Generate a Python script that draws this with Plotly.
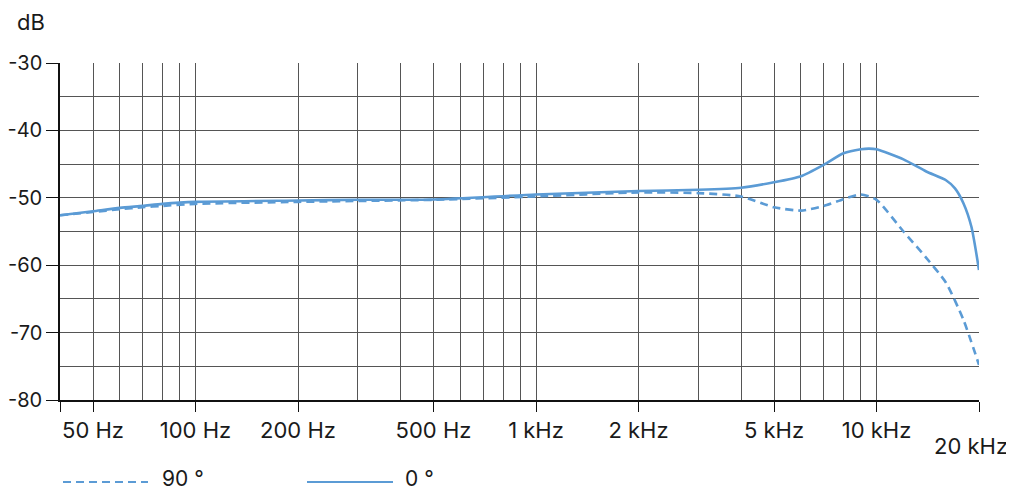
import math
import plotly.graph_objects as go

# ---- data ----
freq_0 = [40, 50, 60, 70, 80, 100, 200, 300, 500, 1000, 2000, 3000, 4000, 5000, 6000, 7000, 8000, 9000, 9500, 10000, 12000, 14000, 16000, 17000, 18000, 19000, 20000]
db_0 = [-52.6, -52.0, -51.5, -51.2, -50.9, -50.6, -50.4, -50.3, -50.25, -49.5, -49.0, -48.8, -48.5, -47.7, -46.8, -45.1, -43.4, -42.8, -42.7, -42.8, -44.3, -46.1, -47.4, -48.6, -50.8, -54.3, -60.7]

freq_90 = [40, 50, 60, 70, 80, 100, 200, 500, 1000, 2000, 3000, 4000, 5000, 6000, 7000, 8000, 9000, 10000, 12000, 14000, 16000, 18000, 20000]
db_90 = [-52.6, -52.1, -51.7, -51.4, -51.2, -50.9, -50.6, -50.3, -49.8, -49.2, -49.3, -49.8, -51.4, -51.9, -51.2, -50.2, -49.5, -50.3, -55.0, -58.9, -62.6, -68.1, -74.8]

x_major = [40, 50, 100, 200, 500, 1000, 2000, 5000, 10000, 20000]
x_major_text = ["", "50 Hz", "100 Hz", "200 Hz", "500 Hz", "1 kHz", "2 kHz", "5 kHz", "10 kHz", ""]
x_minor = [60, 70, 80, 90, 300, 400, 600, 700, 800, 900, 3000, 4000, 6000, 7000, 8000, 9000]
y_major = [-80, -70, -60, -50, -40, -30]
y_major_text = ["-80", "-70", "-60", "-50", "-40", "-30"]
y_minor = [-75, -65, -55, -45, -35]
legend_names = ["90 °", "0 °"]

COLOR = "#5b9bd5"
FONT = "Inter"
TXT = "#1a1a1a"
GRID = "#555555"

# page is rendered with an 8px body margin: compensate
OFF = 8
W, H = 1014 - OFF, 491 - OFF
PLOT_L, PLOT_R, PLOT_T, PLOT_B = 60, 979, 63, 400   # plot area in page pixels
ML = PLOT_L - OFF
MT = PLOT_T - OFF
MR = 1014 - PLOT_R
MB = 491 - PLOT_B
PW, PH = PLOT_R - PLOT_L, PLOT_B - PLOT_T

def px(x):
    return (x - PLOT_L) / PW

def py(y):
    return (PLOT_B - y) / PH

fig = go.Figure()
fig.add_trace(go.Scatter(x=freq_90, y=db_90, mode="lines", name=legend_names[0],
                         line=dict(color=COLOR, width=2.6, dash="8px,5px", shape="spline", smoothing=0.6),
                         showlegend=False))
fig.add_trace(go.Scatter(x=freq_0, y=db_0, mode="lines", name=legend_names[1],
                         line=dict(color=COLOR, width=2.6, shape="spline", smoothing=0.6),
                         showlegend=False))

fig.update_xaxes(type="log", range=[math.log10(40), math.log10(20000)], automargin=False,
                 tickmode="array", tickvals=x_major, ticktext=x_major_text,
                 ticks="outside", ticklen=10, tickwidth=1, tickcolor="#111",
                 showline=True, linecolor="#111", linewidth=1.5,
                 showgrid=True, gridcolor=GRID, gridwidth=1,
                 minor=dict(tickmode="array", tickvals=x_minor, showgrid=True,
                            gridcolor=GRID, gridwidth=1, ticks=""),
                 tickfont=dict(family=FONT, size=22, color=TXT),
                 zeroline=False, fixedrange=True)
fig.update_yaxes(range=[-80, -30], automargin=False,
                 tickmode="array", tickvals=y_major, ticktext=y_major_text,
                 ticks="outside", ticklen=12, tickwidth=1, tickcolor="#111",
                 showline=True, linecolor="#111", linewidth=1.5,
                 showgrid=True, gridcolor=GRID, gridwidth=1,
                 minor=dict(tickmode="array", tickvals=y_minor, showgrid=True,
                            gridcolor=GRID, gridwidth=1, ticks=""),
                 tickfont=dict(family=FONT, size=20, color=TXT),
                 zeroline=False, fixedrange=True)

annotations = [
    dict(text="dB", xref="paper", yref="paper", x=px(31), y=py(22), xanchor="center", yanchor="middle",
         showarrow=False, font=dict(family=FONT, size=22, color=TXT)),
    dict(text="20 kHz", xref="x", yref="paper", x=math.log10(20000), y=0, xanchor="center", yanchor="top",
         yshift=-31, xshift=-8, showarrow=False, font=dict(family=FONT, size=22, color=TXT)),
    dict(text=legend_names[0], xref="paper", yref="paper", x=px(160), y=py(478), xanchor="left", yanchor="middle",
         showarrow=False, font=dict(family=FONT, size=21, color=TXT)),
    dict(text=legend_names[1], xref="paper", yref="paper", x=px(403), y=py(478), xanchor="left", yanchor="middle",
         showarrow=False, font=dict(family=FONT, size=21, color=TXT)),
]
shapes = [
    # extended 20 kHz tick
    dict(type="line", xref="x", yref="paper", x0=math.log10(20000), x1=math.log10(20000), y0=0, y1=py(427),
         line=dict(color="#111", width=1)),
    # legend samples
    dict(type="line", xref="paper", yref="paper", x0=px(63), x1=px(148), y0=py(482), y1=py(482),
         line=dict(color=COLOR, width=1.8, dash="8px,5px")),
    dict(type="line", xref="paper", yref="paper", x0=px(307), x1=px(393), y0=py(482), y1=py(482),
         line=dict(color=COLOR, width=1.8)),
]

fig.update_layout(width=W, height=H, margin=dict(l=ML, r=MR, t=MT, b=MB, autoexpand=False),
                  paper_bgcolor="white", plot_bgcolor="white",
                  annotations=annotations, shapes=shapes, showlegend=False)

fig.write_html("out.html")
